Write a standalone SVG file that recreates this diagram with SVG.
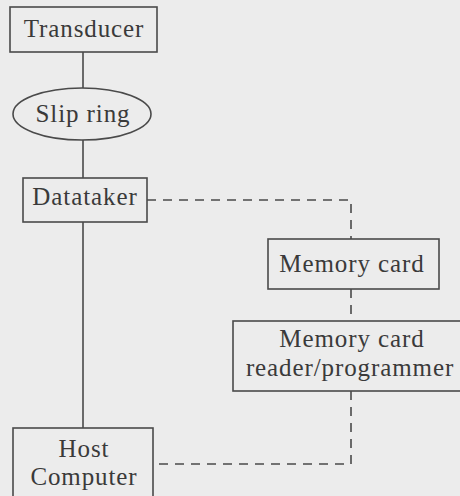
<svg xmlns="http://www.w3.org/2000/svg" width="460" height="496" viewBox="0 0 460 496">
<style>
.box{fill:none;stroke:#4a4a4a;stroke-width:1.6}
.solid{fill:none;stroke:#4a4a4a;stroke-width:1.6}
.dash{fill:none;stroke:#4a4a4a;stroke-width:1.6;stroke-dasharray:9 7}
text{font-family:"Liberation Serif","Times New Roman",serif;font-size:25px;fill:#3a3a3a;text-anchor:middle;letter-spacing:0.9px}
</style>
<rect width="460" height="496" fill="#ececec"/>
<g id="connectors">
<line class="solid" x1="83" y1="52" x2="83" y2="88"/>
<line class="solid" x1="83" y1="140" x2="83" y2="178"/>
<line class="solid" x1="83" y1="222" x2="83" y2="428"/>
<polyline class="dash" points="147,200 351,200 351,239"/>
<line class="dash" x1="351" y1="289" x2="351" y2="321"/>
<polyline class="dash" points="351,391 351,464 153,464"/>
</g>
<g id="transducer">
<rect class="box" x="10" y="7" width="147" height="45"/>
<text x="84" y="37">Transducer</text>
</g>
<g id="slip-ring">
<ellipse class="box" cx="82" cy="114" rx="69" ry="26"/>
<text x="83" y="122">Slip ring</text>
</g>
<g id="datataker">
<rect class="box" x="23" y="178" width="124" height="44"/>
<text x="85" y="205">Datataker</text>
</g>
<g id="memory-card">
<rect class="box" x="268" y="239" width="171" height="50"/>
<text x="352" y="272">Memory card</text>
</g>
<g id="reader">
<rect class="box" x="233" y="321" width="232" height="70"/>
<text x="352" y="347">Memory card</text>
<text x="350" y="376">reader/programmer</text>
</g>
<g id="host">
<rect class="box" x="13" y="428" width="140" height="80"/>
<text x="84" y="457">Host</text>
<text x="84" y="485">Computer</text>
</g>
</svg>
